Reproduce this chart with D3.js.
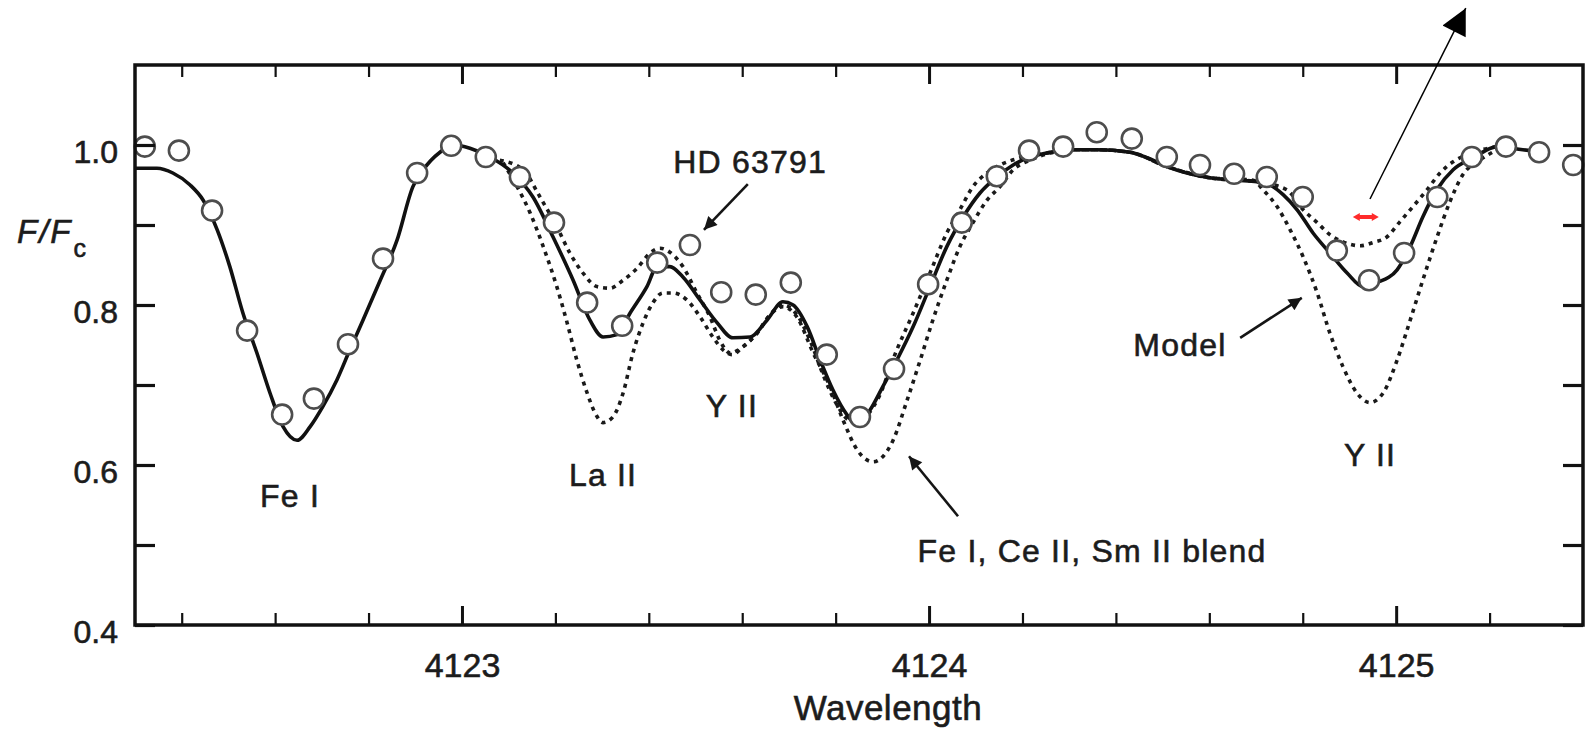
<!DOCTYPE html>
<html>
<head>
<meta charset="utf-8">
<script src="https://cdn.jsdelivr.net/npm/d3@7"></script>
<style>
  body { margin: 0; background: #fff; }
  text { font-family: "Liberation Sans", Arial, Helvetica, sans-serif; fill: #1c1c1c; stroke: #1c1c1c; stroke-width: 0.6px; }
</style>
</head>
<body>
<div id="my_spectrum"></div>
<script>
// Observed spectrum of HD 63791 (open circles)
const obsWave = [4122.321, 4122.394, 4122.465, 4122.540, 4122.615, 4122.683, 4122.756, 4122.831, 4122.904, 4122.977,
  4123.051, 4123.124, 4123.197, 4123.268, 4123.343, 4123.418, 4123.488, 4123.555, 4123.629, 4123.704,
  4123.781, 4123.852, 4123.925, 4123.998, 4124.070, 4124.145, 4124.214, 4124.287, 4124.359, 4124.434,
  4124.509, 4124.580, 4124.653, 4124.723, 4124.800, 4124.873, 4124.942, 4125.017, 4125.088, 4125.162,
  4125.235, 4125.306, 4125.379];
const obsFlux = [0.998, 0.993, 0.918, 0.768, 0.663, 0.683, 0.751, 0.858, 0.965, 0.999,
  0.985, 0.960, 0.903, 0.803, 0.774, 0.853, 0.875, 0.816, 0.813, 0.828,
  0.738, 0.660, 0.720, 0.826, 0.903, 0.961, 0.993, 0.998, 1.016, 1.008,
  0.985, 0.975, 0.964, 0.960, 0.935, 0.868, 0.831, 0.865, 0.935, 0.985,
  0.998, 0.991, 0.975];

// best fitting synthetic spectrum (solid line)
const fitWave = [4122.300, 4122.347, 4122.381, 4122.418, 4122.446, 4122.476, 4122.503, 4122.531, 4122.561, 4122.589,
  4122.617, 4122.647, 4122.675, 4122.702, 4122.732, 4122.760, 4122.788, 4122.825, 4122.861, 4122.895,
  4122.917, 4122.953, 4122.981, 4123.017, 4123.060, 4123.109, 4123.152, 4123.195, 4123.238, 4123.274,
  4123.302, 4123.332, 4123.360, 4123.396, 4123.418, 4123.445, 4123.473, 4123.510, 4123.546, 4123.580,
  4123.617, 4123.653, 4123.687, 4123.709, 4123.739, 4123.767, 4123.794, 4123.824, 4123.846, 4123.874,
  4123.901, 4123.931, 4123.966, 4124.002, 4124.038, 4124.073, 4124.109, 4124.145, 4124.180, 4124.216,
  4124.252, 4124.302, 4124.359, 4124.430, 4124.467, 4124.509, 4124.552, 4124.601, 4124.659, 4124.702,
  4124.730, 4124.758, 4124.788, 4124.822, 4124.858, 4124.895, 4124.929, 4124.959, 4125.002, 4125.030,
  4125.057, 4125.087, 4125.122, 4125.165, 4125.216, 4125.271, 4125.319];
const fitFlux = [0.971, 0.971, 0.965, 0.950, 0.931, 0.894, 0.848, 0.790, 0.740, 0.690,
  0.648, 0.631, 0.648, 0.673, 0.706, 0.744, 0.781, 0.831, 0.881, 0.948,
  0.969, 0.991, 1.000, 0.996, 0.985, 0.965, 0.935, 0.885, 0.831, 0.781,
  0.760, 0.763, 0.790, 0.823, 0.848, 0.848, 0.835, 0.806, 0.778, 0.759,
  0.760, 0.781, 0.804, 0.800, 0.773, 0.731, 0.694, 0.663, 0.650, 0.669,
  0.698, 0.731, 0.773, 0.823, 0.873, 0.910, 0.940, 0.960, 0.975, 0.985,
  0.990, 0.994, 0.994, 0.991, 0.984, 0.973, 0.965, 0.959, 0.956, 0.954,
  0.950, 0.938, 0.919, 0.890, 0.865, 0.840, 0.823, 0.828, 0.844, 0.873,
  0.910, 0.944, 0.969, 0.984, 0.998, 0.994, 0.991];

// model with weaker lines (upper dotted)
const weakWave = [4123.081, 4123.131, 4123.167, 4123.203, 4123.231, 4123.259, 4123.289, 4123.317, 4123.345, 4123.375,
  4123.403, 4123.424, 4123.445, 4123.473, 4123.503, 4123.531, 4123.552, 4123.574, 4123.602, 4123.632,
  4123.660, 4123.687, 4123.717, 4123.745, 4123.773, 4123.803, 4123.831, 4123.859, 4123.889, 4123.931,
  4123.966, 4124.002, 4124.038, 4124.066, 4124.094, 4124.124, 4124.152, 4124.195, 4124.253, 4124.302,
  4124.360, 4124.430, 4124.509, 4124.602, 4124.702, 4124.766, 4124.801, 4124.831, 4124.858, 4124.886,
  4124.923, 4124.950, 4124.980, 4125.008, 4125.036, 4125.066, 4125.094, 4125.122, 4125.152, 4125.216];
const weakFlux = [0.981, 0.969, 0.935, 0.898, 0.865, 0.840, 0.823, 0.821, 0.831, 0.846,
  0.865, 0.871, 0.866, 0.848, 0.815, 0.785, 0.756, 0.740, 0.748, 0.765,
  0.788, 0.800, 0.788, 0.756, 0.713, 0.675, 0.656, 0.659, 0.681, 0.744,
  0.790, 0.840, 0.890, 0.919, 0.948, 0.965, 0.975, 0.984, 0.990, 0.994,
  0.994, 0.991, 0.973, 0.959, 0.954, 0.944, 0.919, 0.903, 0.888, 0.879,
  0.874, 0.878, 0.885, 0.904, 0.923, 0.944, 0.965, 0.979, 0.988, 0.998];

// model with stronger lines (lower dotted)
const strongWave = [4123.088, 4123.118, 4123.146, 4123.174, 4123.203, 4123.225, 4123.246, 4123.268, 4123.285, 4123.302,
  4123.323, 4123.345, 4123.366, 4123.388, 4123.409, 4123.430, 4123.452, 4123.482, 4123.510, 4123.537,
  4123.559, 4123.578, 4123.602, 4123.632, 4123.660, 4123.687, 4123.717, 4123.752, 4123.788, 4123.816,
  4123.846, 4123.880, 4123.923, 4123.953, 4123.981, 4124.008, 4124.038, 4124.066, 4124.094, 4124.124,
  4124.152, 4124.180, 4124.216, 4124.259, 4124.302, 4124.360, 4124.430, 4124.509, 4124.602, 4124.694,
  4124.715, 4124.745, 4124.773, 4124.801, 4124.831, 4124.858, 4124.886, 4124.916, 4124.944, 4124.972,
  4125.002, 4125.030, 4125.057, 4125.087, 4125.115, 4125.143, 4125.179, 4125.216];
const strongFlux = [0.978, 0.948, 0.915, 0.873, 0.823, 0.778, 0.731, 0.690, 0.665, 0.653,
  0.660, 0.690, 0.740, 0.778, 0.803, 0.815, 0.815, 0.806, 0.785, 0.760,
  0.744, 0.738, 0.748, 0.765, 0.788, 0.798, 0.785, 0.740, 0.698, 0.656,
  0.619, 0.604, 0.631, 0.681, 0.731, 0.781, 0.831, 0.873, 0.903, 0.931,
  0.948, 0.969, 0.981, 0.990, 0.994, 0.994, 0.991, 0.973, 0.959, 0.956,
  0.944, 0.923, 0.894, 0.860, 0.815, 0.765, 0.723, 0.690, 0.678, 0.690,
  0.731, 0.781, 0.831, 0.884, 0.929, 0.963, 0.981, 0.994];

// ticks
const xMajorTicks = [4123, 4124, 4125];
const xMinorTicks = [4122.4, 4122.6, 4122.8, 4123.2, 4123.4, 4123.6, 4123.8, 4124.2, 4124.4, 4124.6, 4124.8, 4125.2];
const yTicks = [0.4, 0.5, 0.6, 0.7, 0.8, 0.9, 1.0];
const yLabels = [0.4, 0.6, 0.8, 1.0];

// line identifications and notes
const noteText = ["HD 63791", "Fe I", "La II", "Y II", "Y II", "Model", "Fe I, Ce II, Sm II blend"];
const noteWave = [4123.617, 4122.632, 4123.302, 4123.578, 4124.944, 4124.537, 4124.349];
const noteFlux = [0.965, 0.5475, 0.574, 0.660, 0.599, 0.736, 0.479];

// arrows: start and tip
const arrowFrom = [[4123.612, 0.951], [4124.666, 0.759], [4124.062, 0.536]];
const arrowTo = [[4123.518, 0.894], [4124.798, 0.809], [4123.957, 0.611]];
const bigArrow = [[4124.944, 0.9325], [4125.149, 1.171]];
const redMark = [4124.935, 0.910];

const margin = { top: 65, right: 2, bottom: 112, left: 135 },
  width = 1585 - margin.left - margin.right,
  height = 737 - margin.top - margin.bottom;

const svgRoot = d3
  .select("#my_spectrum")
  .append("svg")
  .attr("width", width + margin.left + margin.right)
  .attr("height", height + margin.top + margin.bottom);

const defs = svgRoot.append("defs");
defs.append("marker")
  .attr("id", "head")
  .attr("viewBox", "0 0 10 10")
  .attr("refX", 10).attr("refY", 5)
  .attr("markerWidth", 18).attr("markerHeight", 13)
  .attr("markerUnits", "userSpaceOnUse")
  .attr("orient", "auto")
  .append("path").attr("d", "M0,0 L10,5 L0,10 z").attr("fill", "#151515");
defs.append("marker")
  .attr("id", "bighead")
  .attr("viewBox", "0 0 10 10")
  .attr("refX", 10).attr("refY", 5)
  .attr("markerWidth", 36).attr("markerHeight", 26)
  .attr("markerUnits", "userSpaceOnUse")
  .attr("orient", "auto")
  .append("path").attr("d", "M0,0 L10,5 L0,10 z").attr("fill", "#000");

const svg = svgRoot.append("g")
  .attr("transform", `translate(${margin.left},${margin.top})`);

const x = d3.scaleLinear().domain([4122.3, 4125.4]).range([0, width]);
const y = d3.scaleLinear().domain([0.4, 1.1]).range([height, 0]);

const line = d3.line()
  .x((d) => x(d[0]))
  .y((d) => y(d[1]))
  .curve(d3.curveMonotoneX);

// dotted models first, the fit on top
[[weakWave, weakFlux], [strongWave, strongFlux]].forEach(function (s) {
  svg.append("path")
    .datum(s[0].map((w, i) => [w, s[1][i]]))
    .attr("d", line)
    .attr("fill", "none")
    .attr("stroke", "#1a1a1a")
    .attr("stroke-width", 3.6)
    .attr("stroke-dasharray", "4,5");
});

svg.append("path")
  .datum(fitWave.map((w, i) => [w, fitFlux[i]]))
  .attr("d", line)
  .attr("fill", "none")
  .attr("stroke", "#111")
  .attr("stroke-width", 3.6)
  .attr("stroke-linejoin", "round");

// observed points
svg.append("g")
  .selectAll("circle")
  .data(obsWave.map((w, i) => [w, obsFlux[i]]))
  .enter()
  .append("circle")
  .attr("cx", (d) => x(d[0]))
  .attr("cy", (d) => y(d[1]))
  .attr("r", 10)
  .attr("fill", "#fff")
  .attr("stroke", "#4d4d4d")
  .attr("stroke-width", 2.6);

// frame
svg.append("rect")
  .attr("width", width)
  .attr("height", height)
  .attr("fill", "none")
  .attr("stroke", "#111")
  .attr("stroke-width", 3.5);

function styleAxis(g, w) {
  g.select(".domain").remove();
  g.attr("color", "#111");
  g.selectAll("line").attr("stroke-width", w);
}

// bottom axis
svg.append("g")
  .attr("transform", `translate(0,${height})`)
  .call(d3.axisBottom(x).tickValues(xMajorTicks).tickSize(-19).tickPadding(28).tickFormat(d3.format("d")))
  .call((g) => styleAxis(g, 3))
  .call((g) => g.selectAll("text").style("font-size", "34px").attr("fill", null));
svg.append("g")
  .attr("transform", `translate(0,${height})`)
  .call(d3.axisBottom(x).tickValues(xMinorTicks).tickSize(-12).tickFormat(""))
  .call((g) => styleAxis(g, 2.2));

// top axis
svg.append("g")
  .call(d3.axisTop(x).tickValues(xMajorTicks).tickSize(-19).tickFormat(""))
  .call((g) => styleAxis(g, 3));
svg.append("g")
  .call(d3.axisTop(x).tickValues(xMinorTicks).tickSize(-12).tickFormat(""))
  .call((g) => styleAxis(g, 2.2));

// left axis
svg.append("g")
  .call(d3.axisLeft(y).tickValues(yTicks).tickSize(-20).tickPadding(17)
    .tickFormat((d) => (yLabels.includes(d) ? d.toFixed(1) : "")))
  .call((g) => styleAxis(g, 3.2))
  .call((g) => g.selectAll("text").style("font-size", "32px").attr("dy", "0.56em").attr("fill", null));

// right axis
svg.append("g")
  .attr("transform", `translate(${width},0)`)
  .call(d3.axisRight(y).tickValues(yTicks).tickSize(-20).tickFormat(""))
  .call((g) => styleAxis(g, 3.2));

// axis titles
svgRoot.append("text")
  .attr("x", margin.left + x(4123.912))
  .attr("y", 720)
  .attr("text-anchor", "middle")
  .style("font-size", "35px")
  .style("letter-spacing", "0.5px")
  .text("Wavelength");

const yTitle = svgRoot.append("text")
  .attr("x", 17)
  .attr("y", 243)
  .style("font-size", "33px");
yTitle.append("tspan").style("font-style", "italic").style("letter-spacing", "2px").text("F/F");
yTitle.append("tspan").attr("dx", 1).attr("dy", 14).style("font-size", "25px").text("c");

// labels
svg.append("g")
  .selectAll("text")
  .data(noteText)
  .enter()
  .append("text")
  .attr("x", (d, i) => x(noteWave[i]))
  .attr("y", (d, i) => y(noteFlux[i]))
  .attr("text-anchor", "middle")
  .style("font-size", "32px")
  .style("letter-spacing", "1.2px")
  .text((d) => d);

// arrows
for (let i = 0; i < arrowFrom.length; i++) {
  svg.append("line")
    .attr("x1", x(arrowFrom[i][0])).attr("y1", y(arrowFrom[i][1]))
    .attr("x2", x(arrowTo[i][0])).attr("y2", y(arrowTo[i][1]))
    .attr("stroke", "#151515")
    .attr("stroke-width", 2.6)
    .attr("marker-end", "url(#head)");
}

svg.append("line")
  .attr("x1", x(bigArrow[0][0])).attr("y1", y(bigArrow[0][1]))
  .attr("x2", x(bigArrow[1][0])).attr("y2", y(bigArrow[1][1]))
  .attr("stroke", "#000")
  .attr("stroke-width", 1.5)
  .attr("marker-end", "url(#bighead)");

// small red double arrow
const rx = x(redMark[0]), ry = y(redMark[1]);
svg.append("polygon")
  .attr("points", [[-13, 0], [-6, -4], [-6, -2], [6, -2], [6, -4], [13, 0], [6, 4], [6, 2], [-6, 2], [-6, 4]]
    .map((p) => [rx + p[0], ry + p[1]].join(",")).join(" "))
  .attr("fill", "#ff2b2b");
</script>
</body>
</html>
